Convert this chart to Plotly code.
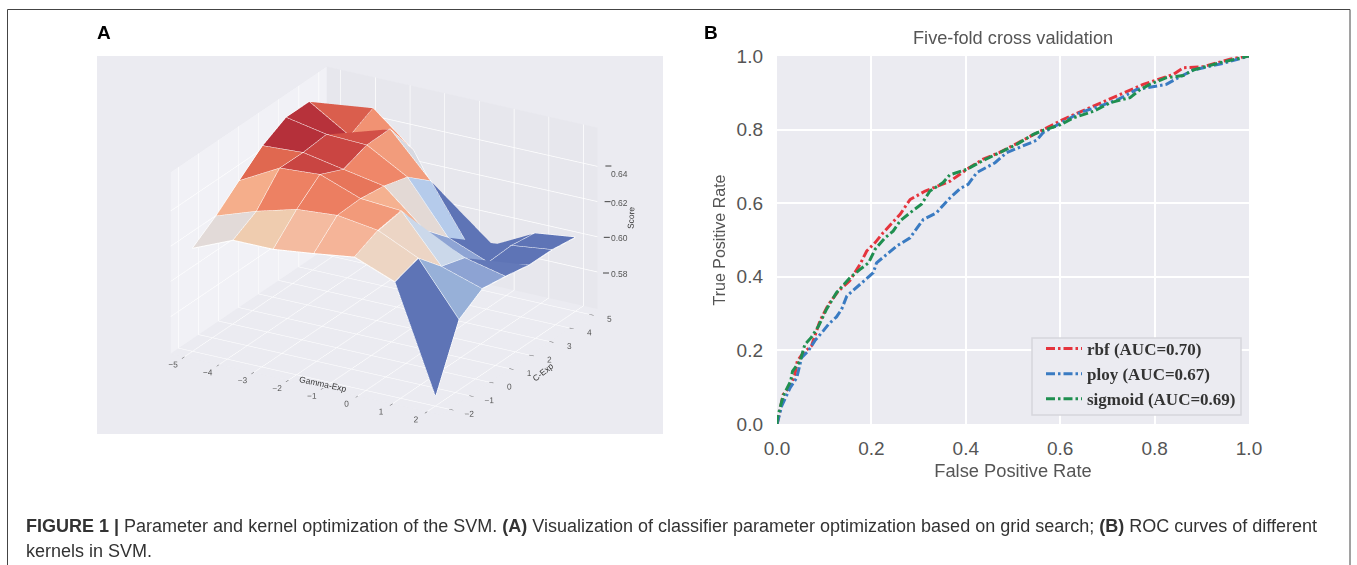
import math
import plotly.graph_objects as go

W, H = 1357, 565
BG = "#EBEBF1"

# ---- Panel A data
gamma_exp = [-5.0, -3.83, -2.67, -1.5, -0.33, 0.83, 2.0]
c_exp = [-2.0, -0.83, 0.33, 1.5, 2.67, 3.83, 5.0]
# score[i][j]: i indexes gamma_exp, j indexes c_exp
score_g0 = [.6175, .6268, .6379, .6488, .6559, .6559, .6442]
score_g1 = [.6273, .6347, .6503, .6501, .6514, .6416, .6484]
score_g2 = [.6273, .6409, .6518, .6457, .6505, .6507, .6296]
score_g3 = [.6301, .6427, .6433, .6414, .6375, .6264, .5910]
score_g4 = [.6333, .6394, .6416, .6216, .6084, .5918, .5851]
score_g5 = [.6244, .6288, .6151, .6110, .5994, .6001, .5981]
score_g6 = [.5644, .5992, .6077, .6057, .6031, .6029, .6010]
score = [score_g0, score_g1, score_g2, score_g3, score_g4, score_g5, score_g6]
z_ticks = [.58, .60, .62, .64]

color_levels = [.598, .604, .610, .6127, .616, .622, .6266, .6315, .6325, .636, .6374, .6418, .6444, .6468, .649, .6515]
color_values = ["#5E74B6", "#5E74B6", "#8EA4D4", "#97B0D8", "#B5CBEB", "#C9D8EC", "#E2DAD8", "#EDD5C3",
                "#EFCDB0", "#F5B79D", "#F5AE8B", "#F29A7A", "#EE8264", "#E06850", "#CF4B45", "#B5303A"]

# ---- Panel B data
fpr_rbf = [0, .001, .013, .028, .038, .043, .056, .073, .091, .109, .13, .154, .176, .19, .208, .225, .261, .282, .314,
           .331, .367, .402, .437, .472, .522, .558, .607, .663, .72, .748, .776, .84, .861, .903, .96, .995, 1]
tpr_rbf = [0, .004, .08, .103, .135, .171, .194, .212, .28, .325, .361, .389, .434, .47, .493, .52, .57, .61, .633,
           .642, .66, .692, .72, .738, .773, .796, .828, .86, .891, .909, .923, .95, .968, .971, .991, 1, 1]
fpr_ploy = [0, .001, .01, .028, .042, .052, .066, .08, .098, .109, .126, .137, .148, .172, .186, .204, .211, .229, .254,
            .282, .31, .338, .363, .388, .405, .423, .462, .486, .514, .55, .564, .6, .642, .684, .723, .762, .79, .825,
            .85, .882, .945, .995, 1]
tpr_ploy = [0, .004, .049, .099, .126, .18, .198, .226, .253, .271, .291, .312, .348, .375, .393, .411, .438, .457, .484,
            .506, .556, .574, .61, .64, .651, .683, .71, .737, .751, .771, .792, .818, .846, .864, .882, .909, .916, .923,
            .941, .962, .98, 1, 1]
fpr_sigmoid = [0, .001, .013, .029, .033, .049, .059, .073, .088, .105, .126, .155, .176, .194, .208, .229, .246, .261,
               .282, .306, .324, .352, .366, .402, .437, .472, .508, .543, .564, .6, .628, .671, .706, .748, .77, .79,
               .825, .861, .882, .939, .995, 1]
tpr_sigmoid = [0, .017, .076, .117, .144, .171, .216, .236, .266, .312, .357, .398, .42, .438, .475, .506, .524, .552,
               .574, .597, .633, .656, .677, .692, .716, .738, .76, .787, .798, .813, .832, .85, .873, .887, .909, .923,
               .941, .947, .962, .982, 1, 1]
legend_names = ["rbf (AUC=0.70)", "ploy (AUC=0.67)", "sigmoid (AUC=0.69)"]
roc_colors = ["#E5343D", "#3A7BC2", "#1F8F50"]

caption_1 = ("<b>FIGURE 1 |</b> Parameter and kernel optimization of the SVM. <b>(A)</b> Visualization of classifier "
             "parameter optimization based on grid search; <b>(B)</b> ROC curves of different")
caption_2 = "kernels in SVM."

fig = go.Figure()

# ---- surface as flat-coloured quads
n_g, n_c = len(gamma_exp), len(c_exp)
vx, vy, vz = [], [], []
for i in range(n_g):
    for j in range(n_c):
        vx.append(gamma_exp[i]); vy.append(c_exp[j]); vz.append(score[i][j])
ti, tj, tk, cell = [], [], [], []
for i in range(n_g - 1):
    for j in range(n_c - 1):
        a, b, c, d = i * n_c + j, (i + 1) * n_c + j, (i + 1) * n_c + j + 1, i * n_c + j + 1
        m = (vz[a] + vz[b] + vz[c] + vz[d]) / 4
        ti += [a, a]; tj += [b, c]; tk += [c, d]; cell += [m, m]
cmin, cmax = color_levels[0], color_levels[-1]
scale = [[(l - cmin) / (cmax - cmin), v] for l, v in zip(color_levels, color_values)]
fig.add_trace(go.Mesh3d(x=vx, y=vy, z=vz, i=ti, j=tj, k=tk, intensity=cell, intensitymode="cell",
                        colorscale=scale, cmin=cmin, cmax=cmax, showscale=False, flatshading=True,
                        lighting=dict(ambient=1, diffuse=0, specular=0, fresnel=0, roughness=1), hoverinfo="skip"))
wx, wy, wz = [], [], []
for i in range(n_g):
    wx += [gamma_exp[i]] * n_c + [None]; wy += c_exp + [None]; wz += score[i] + [None]
for j in range(n_c):
    wx += gamma_exp + [None]; wy += [c_exp[j]] * n_g + [None]; wz += [score[i][j] for i in range(n_g)] + [None]
fig.add_trace(go.Scatter3d(x=wx, y=wy, z=wz, mode="lines", line=dict(color="white", width=2),
                           showlegend=False, hoverinfo="skip"))

# ---- ROC curves
for fx, fy, nm, col in zip([fpr_rbf, fpr_ploy, fpr_sigmoid], [tpr_rbf, tpr_ploy, tpr_sigmoid], legend_names, roc_colors):
    fig.add_trace(go.Scatter(x=fx, y=fy, mode="lines", name=nm,
                             line=dict(color=col, width=3, dash="9px,3px,2.5px,3px")))

el, az, r, cz = math.radians(23), math.radians(-60), 2.53, -.161
axis3d = dict(gridcolor="white", gridwidth=1.5, showspikes=False, zeroline=False, showline=False, ticks="outside",
              ticklen=5, tickcolor="#444444", tickwidth=1, tickfont=dict(family="Liberation Sans", size=10, color="#555555"),
              showbackground=True, tickangle=0, title=dict(text=""))
ann = dict(xref="paper", yref="paper", showarrow=False)
panel_titles = [
    dict(ann, text="Gamma-Exp", x=296 / W, y=1 - 396 / H, textangle=12, font=dict(family="Liberation Sans", size=8.5, color="#333333")),
    dict(ann, text="C-Exp", x=543 / W, y=1 - 372 / H, textangle=-38, font=dict(family="Liberation Sans", size=8.5, color="#333333")),
    dict(ann, text="Score", x=631 / W, y=1 - 218 / H, textangle=-88, font=dict(family="Liberation Sans", size=8.5, color="#333333")),
]
z_px = [274 - (z - .58) / .06 * 107 for z in z_ticks]
z_labels = [dict(ann, text=f"{z:.2f}", x=619.5 / W, y=1 - p / H, font=dict(family="Liberation Sans", size=8.5, color="#555555"))
            for z, p in zip(z_ticks, z_px)]
z_marks = [dict(type="line", xref="paper", yref="paper", x0=(603 + 0.8 * k) / W, x1=(609 + 0.8 * k) / W, y0=1 - (p - 1) / H, y1=1 - (p - 1) / H,
                line=dict(color="#444444", width=1)) for k, p in enumerate(z_px)]

fig.update_layout(
    width=W, height=H, autosize=False, margin=dict(l=0, r=0, t=0, b=0, autoexpand=False), paper_bgcolor="white", plot_bgcolor=BG,
    showlegend=True,
    scene=dict(domain=dict(x=[0, 768 / W], y=[0, 1]),
               bgcolor="rgba(0,0,0,0)",
               aspectmode="manual", aspectratio=dict(x=1.106, y=1.106, z=.697),
               camera=dict(eye=dict(x=r * math.cos(el) * math.cos(az), y=r * math.cos(el) * math.sin(az), z=r * math.sin(el) + cz),
                           center=dict(x=0, y=0, z=cz), projection=dict(type="orthographic")),
               xaxis=dict(axis3d, range=[-5.4, 2.4], tickvals=[-5, -4, -3, -2, -1, 0, 1, 2], backgroundcolor="#F1F1F6"),
               yaxis=dict(axis3d, range=[-2.4, 5.4], tickvals=[-2, -1, 0, 1, 2, 3, 4, 5], backgroundcolor="#E7E7ED"),
               zaxis=dict(axis3d, range=[.559, .662], tickvals=z_ticks, ticks="", showticklabels=False, backgroundcolor=BG)),
    xaxis=dict(domain=[777 / W, 1249 / W], range=[0, 1], tickvals=[0, .2, .4, .6, .8, 1], tickformat=".1f",
               gridcolor="white", gridwidth=2, zeroline=False, showline=False, ticks="", anchor="y", ticklabelstandoff=11,
               tickfont=dict(family="Liberation Sans", size=19, color="#555555"),
               title=dict(text="False Positive Rate", font=dict(family="Liberation Sans", size=18.3, color="#555555"), standoff=6)),
    yaxis=dict(domain=[1 - 424 / H, 1 - 56 / H], range=[0, 1], tickvals=[0, .2, .4, .6, .8, 1], tickformat=".1f",
               gridcolor="white", gridwidth=2, zeroline=False, showline=False, ticks="", anchor="x", ticklabelstandoff=13,
               tickfont=dict(family="Liberation Sans", size=19, color="#555555"),
               title=dict(text="True Positive Rate", font=dict(family="Liberation Sans", size=16, color="#555555"), standoff=6)),
    legend=dict(x=1241 / W, xref="paper", xanchor="right", y=1 - 331 / H, yref="paper", yanchor="top",
                bgcolor="rgba(0,0,0,0)", borderwidth=0,
                font=dict(family="Liberation Serif", size=17, color="#333333", weight="bold"),
                itemwidth=36, tracegroupgap=0),
    shapes=[
        dict(type="rect", xref="paper", yref="paper", x0=97 / W, x1=663 / W, y0=1 - 434 / H, y1=1 - 56 / H,
             fillcolor=BG, line=dict(width=0), layer="below"),
        dict(type="rect", xref="paper", yref="paper", x0=1032 / W, x1=1241 / W, y0=1 - 415 / H, y1=1 - 338 / H,
             fillcolor=BG, line=dict(color="#D6D6DC", width=1.5), layer="above"),
        dict(type="line", xref="paper", yref="paper", x0=7.5 / W, x1=7.5 / W, y0=0, y1=1 - 9.5 / H, line=dict(color="#444444", width=1)),
        dict(type="line", xref="paper", yref="paper", x0=7.5 / W, x1=1350 / W, y0=1 - 9.5 / H, y1=1 - 9.5 / H, line=dict(color="#444444", width=1)),
        dict(type="line", xref="paper", yref="paper", x0=1350 / W, x1=1350 / W, y0=0, y1=1 - 9.5 / H, line=dict(color="#444444", width=1)),
    ] + z_marks,
    annotations=[
        dict(ann, text="<b>A</b>", x=95 / W, y=1 - 33 / H, xanchor="left", yanchor="middle",
             font=dict(family="Liberation Sans", size=19, color="black")),
        dict(ann, text="<b>B</b>", x=702 / W, y=1 - 33 / H, xanchor="left", yanchor="middle",
             font=dict(family="Liberation Sans", size=19, color="black")),
        dict(ann, text="Five-fold cross validation", x=1013 / W, y=1 - 38 / H, xanchor="center", yanchor="middle",
             font=dict(family="Liberation Sans", size=18.2, color="#555555")),
        dict(ann, text=caption_1, x=24 / W, y=1 - 526 / H, xanchor="left", yanchor="middle",
             font=dict(family="Liberation Sans", size=18, color="#333333")),
        dict(ann, text=caption_2, x=24 / W, y=1 - 551 / H, xanchor="left", yanchor="middle",
             font=dict(family="Liberation Sans", size=18, color="#333333")),
    ] + panel_titles + z_labels,
)
fig.write_html("out.html", config={"displayModeBar": False},
               post_script="document.body.style.margin='0';document.body.style.overflow='hidden';")
